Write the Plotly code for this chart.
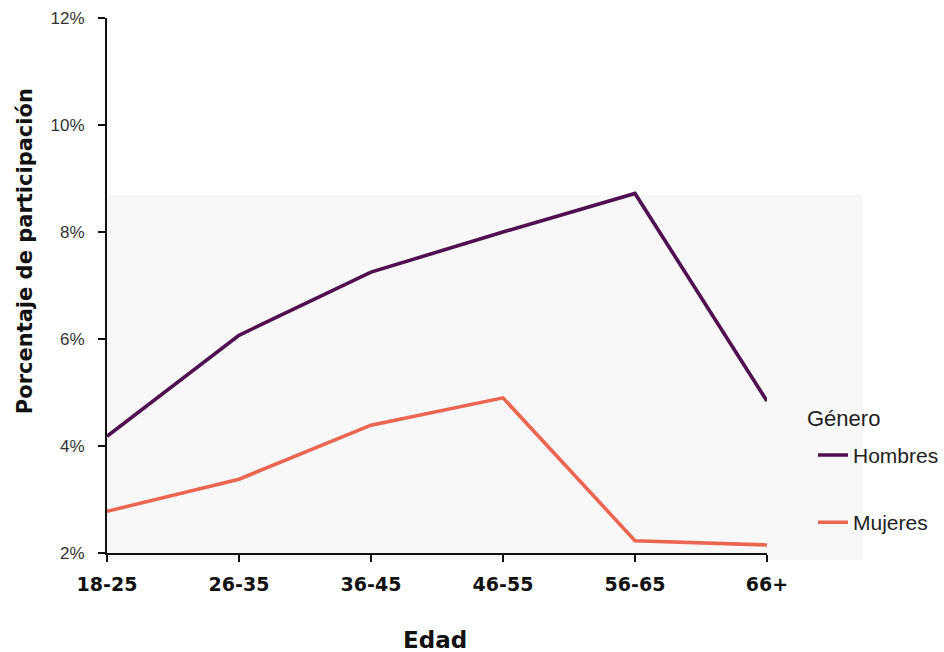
import plotly.graph_objects as go

categories = ["18-25", "26-35", "36-45", "46-55", "56-65", "66+"]
hombres = [4.18, 6.07, 7.25, 8.0, 8.72, 4.84]
mujeres = [2.78, 3.38, 4.39, 4.9, 2.23, 2.15]
y_ticks = [2, 4, 6, 8, 10, 12]

fig = go.Figure()
fig.add_trace(go.Scatter(x=categories, y=hombres, mode="lines", name="Hombres",
                         legendgroup="h", line=dict(color="#50104f", width=3.6)))
fig.add_trace(go.Scatter(x=categories, y=mujeres, mode="lines", name="Mujeres",
                         legendgroup="m", line=dict(color="#eb6651", width=3.6)))

bold = "DejaVu Sans, Liberation Sans, sans-serif"
reg = "Liberation Sans, Arial, sans-serif"

fig.update_layout(
    width=944, height=652,
    margin=dict(l=107, r=177, t=18, b=99, autoexpand=False),
    paper_bgcolor="white", plot_bgcolor="rgba(0,0,0,0)",
    font=dict(family=reg, color="#222"),
    showlegend=True,
    legend=dict(x=1.0697, y=0.12, xanchor="left", yanchor="middle",
                font=dict(size=21, color="#222", family=reg), tracegroupgap=37,
                traceorder="grouped", bgcolor="rgba(0,0,0,0)"),
    xaxis=dict(type="category", range=[0, 5], showgrid=False, zeroline=False,
               automargin=False,
               showline=True, linecolor="#111", linewidth=2,
               ticks="outside", ticklen=7, tickcolor="#111", tickwidth=2,
               ticklabelstandoff=6,
               tickfont=dict(size=19, color="#111", family=bold, weight=700)),
    yaxis=dict(range=[2, 12], tickvals=y_ticks, ticktext=[f"{v}%" for v in y_ticks],
               automargin=False,
               showgrid=False, zeroline=False,
               showline=True, linecolor="#111", linewidth=2,
               ticks="outside", ticklen=7, tickcolor="#111", tickwidth=2,
               ticklabelstandoff=10,
               tickfont=dict(size=17, color="#333", family=reg)),
    shapes=[dict(type="rect", xref="paper", yref="paper", x0=0, x1=1.144, y0=-0.013, y1=0.669,
                 fillcolor="#f8f8f8", line=dict(width=0), layer="below")],
    annotations=[
        dict(text="Género", xref="paper", yref="paper", x=1.0576, y=0.2505,
             xanchor="left", yanchor="middle", showarrow=False,
             font=dict(size=22, color="#222", family=reg)),
        dict(text="Porcentaje de participación", xref="paper", yref="paper",
             x=-0.124, y=0.5645, xanchor="center", yanchor="middle", showarrow=False,
             textangle=-90, font=dict(size=21, color="#111", family=bold, weight=700)),
        dict(text="Edad", xref="paper", yref="paper", x=0.497, y=-0.1626,
             xanchor="center", yanchor="middle", showarrow=False,
             font=dict(size=23, color="#111", family=bold, weight=700)),
    ],
)

fig.write_html("out.html", config={"displayModeBar": False},
               post_script="document.body.style.margin='0';")
